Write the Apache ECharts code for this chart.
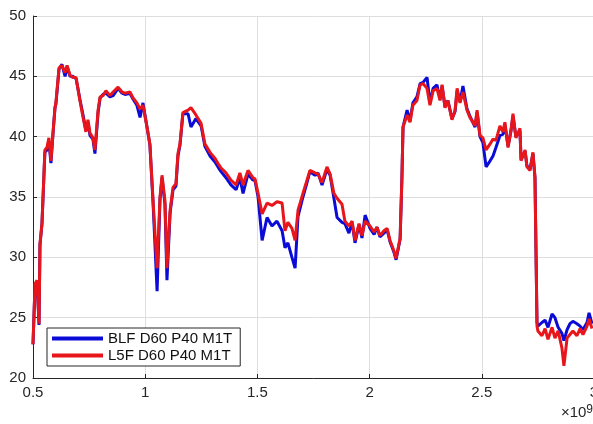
<!DOCTYPE html>
<html>
<head>
<meta charset="utf-8">
<script src="https://cdn.jsdelivr.net/npm/echarts@6/dist/echarts.min.js"></script>
<style>
  html, body { margin: 0; padding: 0; background: #fff; }
  #chart { width: 593px; height: 424px; }
</style>
</head>
<body>
<div id="chart"></div>
<script>
// x positions in units of 1e9
var xs = [
  0.500, 0.509, 0.518, 0.527, 0.531, 0.540, 0.553, 0.562, 0.571, 0.580,
  0.589, 0.598, 0.602, 0.616, 0.629, 0.643, 0.652, 0.665, 0.678, 0.692,
  0.709, 0.723, 0.736, 0.745, 0.754, 0.767, 0.776, 0.790, 0.799, 0.812,
  0.825, 0.843, 0.857, 0.879, 0.897, 0.910, 0.932, 0.946, 0.963, 0.977,
  0.990, 1.008, 1.021, 1.035, 1.053, 1.066, 1.075, 1.088, 1.097, 1.111,
  1.124, 1.137, 1.146, 1.155, 1.168, 1.191, 1.204, 1.226, 1.249, 1.266,
  1.289, 1.311, 1.324, 1.338, 1.360, 1.382, 1.405, 1.422, 1.436, 1.458,
  1.480, 1.489, 1.503, 1.521, 1.543, 1.565, 1.587, 1.610, 1.623, 1.636,
  1.654, 1.668, 1.681, 1.703, 1.721, 1.734, 1.757, 1.770, 1.788, 1.810,
  1.824, 1.841, 1.855, 1.877, 1.890, 1.908, 1.922, 1.935, 1.953, 1.966,
  1.980, 2.002, 2.020, 2.033, 2.046, 2.064, 2.078, 2.091, 2.109, 2.118,
  2.136, 2.144, 2.149, 2.167, 2.180, 2.193, 2.211, 2.225, 2.238, 2.256,
  2.269, 2.283, 2.300, 2.314, 2.323, 2.336, 2.349, 2.367, 2.381, 2.390,
  2.403, 2.416, 2.434, 2.447, 2.470, 2.479, 2.492, 2.505, 2.519, 2.537,
  2.550, 2.563, 2.581, 2.594, 2.603, 2.617, 2.630, 2.639, 2.652, 2.670,
  2.675, 2.693, 2.701, 2.715, 2.728, 2.737, 2.746, 2.750, 2.768, 2.782,
  2.795, 2.813, 2.826, 2.840, 2.857, 2.866, 2.880, 2.893, 2.906, 2.924,
  2.938, 2.951, 2.969, 2.978, 2.991
];

var blf = [
  22.8, 27.6, 28.0, 24.4, 31.0, 32.8, 38.7, 38.9, 39.6, 37.8,
  40.2, 42.4, 42.7, 45.6, 46.0, 45.0, 45.8, 45.0, 45.0, 44.8,
  43.1, 41.8, 40.5, 41.2, 40.1, 39.8, 38.6, 42.0, 43.2, 43.5,
  43.6, 43.3, 43.4, 44.0, 43.6, 43.5, 43.6, 43.1, 42.6, 41.6,
  42.8, 40.8, 39.3, 34.5, 27.2, 34.8, 36.6, 34.4, 28.1, 33.7,
  35.6, 35.9, 38.4, 39.3, 41.9, 41.9, 40.8, 41.5, 40.9, 39.2,
  38.4, 37.9, 37.5, 37.1, 36.6, 36.0, 35.6, 36.6, 35.3, 36.9,
  36.4, 36.4, 35.0, 31.4, 33.3, 32.6, 33.0, 32.2, 30.8, 31.2,
  30.0, 29.1, 33.4, 35.0, 36.2, 37.1, 36.8, 37.0, 36.0, 37.3,
  36.8, 34.9, 33.3, 32.9, 32.8, 32.0, 32.9, 31.2, 32.7, 31.6,
  33.5, 32.4, 31.9, 32.5, 31.7, 32.0, 32.3, 31.3, 30.4, 29.8,
  31.5, 36.6, 40.8, 42.2, 41.3, 42.8, 43.3, 44.4, 44.5, 44.9,
  42.8, 44.0, 44.3, 43.1, 44.2, 42.5, 43.0, 41.5, 42.1, 43.8,
  42.9, 44.2, 42.3, 41.7, 40.8, 42.0, 40.0, 39.5, 37.5, 38.0,
  38.4, 39.1, 40.1, 40.2, 41.0, 39.2, 40.5, 41.7, 40.0, 40.5,
  38.1, 38.8, 37.6, 37.3, 38.6, 36.6, 24.6, 24.3, 24.6, 24.8,
  24.2, 25.3, 25.0, 24.2, 23.7, 23.1, 24.0, 24.5, 24.7, 24.5,
  24.3, 24.0, 24.6, 25.4, 24.5
];

var l5f = [
  22.8, 27.8, 28.1, 24.5, 31.1, 32.8, 38.9, 39.1, 39.9, 38.0,
  40.3, 42.4, 42.8, 45.7, 45.9, 45.3, 45.9, 45.1, 44.9, 44.9,
  43.0, 41.6, 40.4, 41.4, 40.3, 39.9, 38.9, 42.2, 43.3, 43.4,
  43.8, 43.4, 43.7, 44.1, 43.7, 43.6, 43.7, 43.2, 42.8, 42.3,
  42.6, 40.8, 39.4, 34.7, 29.1, 35.0, 36.8, 34.7, 29.1, 33.9,
  35.8, 36.1, 38.6, 39.4, 42.0, 42.2, 42.4, 41.8, 41.1, 39.4,
  38.7, 38.2, 37.8, 37.4, 37.0, 36.4, 36.0, 37.0, 36.0, 37.2,
  36.6, 36.5, 35.3, 33.6, 34.5, 34.3, 34.6, 34.5, 32.2, 32.9,
  32.4, 31.4, 33.9, 35.3, 36.4, 37.2, 37.0, 36.9, 36.2, 37.5,
  36.9, 35.3, 34.9, 34.4, 33.0, 32.6, 33.0, 31.4, 32.8, 31.8,
  33.0, 32.6, 32.1, 32.5, 31.8, 32.2, 32.4, 31.4, 30.5, 29.9,
  31.6, 36.6, 40.8, 41.8, 41.2, 42.6, 43.0, 44.3, 44.4, 44.0,
  42.6, 43.8, 44.0, 43.0, 44.3, 42.4, 43.0, 41.4, 42.2, 44.0,
  42.8, 43.7, 42.2, 41.6, 40.9, 42.2, 40.1, 39.9, 38.9, 39.4,
  39.8, 39.7, 40.9, 40.4, 41.2, 39.1, 40.5, 41.9, 39.9, 40.7,
  38.0, 38.9, 37.5, 37.2, 38.7, 36.6, 24.3, 23.9, 23.5, 24.1,
  23.2, 24.2, 23.3, 23.9, 22.5, 21.0, 23.3, 23.6, 23.9, 23.5,
  24.1, 23.6, 24.3, 24.9, 24.1
];

var seriesNames = ['BLF D60 P40 M1T', 'L5F D60 P40 M1T'];
var seriesColors = ['#0b0bd8', '#e8161b'];

function pairs(x, y) {
  var out = [];
  for (var i = 0; i < x.length; i++) {
    out.push([x[i], y[i]]);
  }
  return out;
}

function buildLine(name, values, color) {
  return {
    name: name,
    type: 'line',
    data: pairs(xs, values),
    showSymbol: false,
    symbol: 'none',
    lineStyle: { color: color, width: 3 },
    itemStyle: { color: color },
    animation: false
  };
}

var chart = echarts.init(document.getElementById('chart'));

chart.setOption({
  animation: false,
  backgroundColor: '#fff',
  grid: {
    left: 33,
    top: 16,
    width: 561,
    height: 362,
    containLabel: false,
    outerBoundsMode: 'none'
  },
  xAxis: {
    type: 'value',
    min: 0.5,
    max: 3,
    interval: 0.5,
    axisLine: { show: true, lineStyle: { color: '#262626', width: 1 } },
    axisTick: { show: true, inside: true, length: 4, lineStyle: { color: '#262626' } },
    axisLabel: {
      color: '#262626',
      fontSize: 15,
      fontFamily: 'Liberation Sans, Arial, sans-serif',
      margin: 7,
      hideOverlap: false
    },
    splitLine: { show: true, lineStyle: { color: '#dedede', width: 1 } }
  },
  yAxis: {
    type: 'value',
    min: 20,
    max: 50,
    interval: 5,
    axisLine: { show: true, lineStyle: { color: '#262626', width: 1 } },
    axisTick: { show: true, inside: true, length: 4, lineStyle: { color: '#262626' } },
    axisLabel: {
      color: '#262626',
      fontSize: 15,
      fontFamily: 'Liberation Sans, Arial, sans-serif',
      margin: 7
    },
    splitLine: { show: true, lineStyle: { color: '#dedede', width: 1 } }
  },
  legend: {
    orient: 'vertical',
    left: 47,
    top: 328,
    padding: [3, 8, 3, 5],
    itemGap: 2,
    itemWidth: 51,
    itemHeight: 4,
    icon: 'rect',
    backgroundColor: '#fff',
    borderColor: '#262626',
    borderWidth: 1,
    borderRadius: 0,
    textStyle: {
      color: '#111',
      fontSize: 15,
      fontFamily: 'Liberation Sans, Arial, sans-serif'
    },
    data: seriesNames
  },
  graphic: [{
    type: 'text',
    right: 0,
    top: 404,
    style: {
      text: '×10{s|9}',
      fill: '#262626',
      font: '15px Liberation Sans, Arial, sans-serif',
      rich: {
        s: { fontSize: 12, verticalAlign: 'top', fill: '#262626', padding: [0, 0, 6, 0] }
      }
    }
  }],
  series: [
    buildLine(seriesNames[0], blf, seriesColors[0]),
    buildLine(seriesNames[1], l5f, seriesColors[1])
  ]
});
</script>
</body>
</html>
